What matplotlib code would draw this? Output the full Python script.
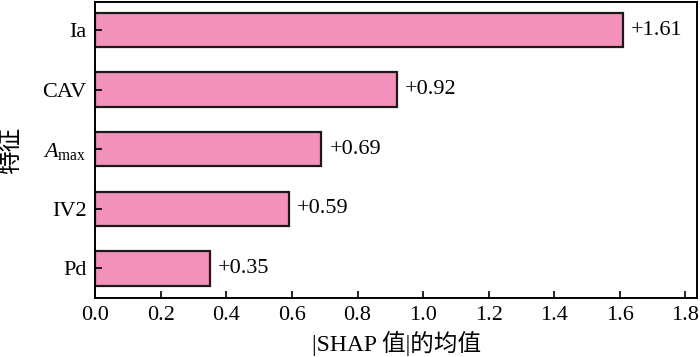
import matplotlib.pyplot as plt
import numpy as np

plt.rcParams['font.family'] = ['Liberation Serif', 'Noto Sans CJK SC']
plt.rcParams['mathtext.fontset'] = 'custom'
plt.rcParams['mathtext.rm'] = 'Liberation Serif'
plt.rcParams['mathtext.it'] = 'Liberation Serif:italic'

features = ['Pd', 'IV2', r'$\mathit{A}_{\mathrm{max}}$', 'CAV', 'Ia']
values = [0.35, 0.59, 0.69, 0.92, 1.61]
xticks = [0.0, 0.2, 0.4, 0.6, 0.8, 1.0, 1.2, 1.4, 1.6, 1.8]

fig = plt.figure(figsize=(7, 3.57), dpi=100)
ax = fig.add_axes([0.136, 0.165, 0.860, 0.829])

y = np.arange(len(features))
ax.barh(y, values, height=0.58, color='#f291b9', edgecolor='#1a1a1a', linewidth=1.6)

for yi, v in zip(y, values):
    ax.text(v + 0.025, yi, '+{:.2f}'.format(v), va='center', ha='left', fontsize=16)

ax.set_yticks(y)
ax.set_yticklabels(features, fontsize=16)
ax.set_xticks(xticks)
ax.set_xticklabels(['{:.1f}'.format(t) for t in xticks], fontsize=16)
ax.set_xlim(0, 1.836)
ax.set_ylim(-0.5, 4.47)
ax.tick_params(direction='in', length=5, width=1.2)
ax.tick_params(axis='y', pad=6)
ax.tick_params(axis='x', pad=6)
for s in ax.spines.values():
    s.set_linewidth(1.4)

ax.set_xlabel('|SHAP 值|的均值', fontsize=17)
ax.set_ylabel('特征', fontsize=17)
ax.yaxis.set_label_coords(-0.122, 0.5)

fig.savefig('out.png', dpi=100)
